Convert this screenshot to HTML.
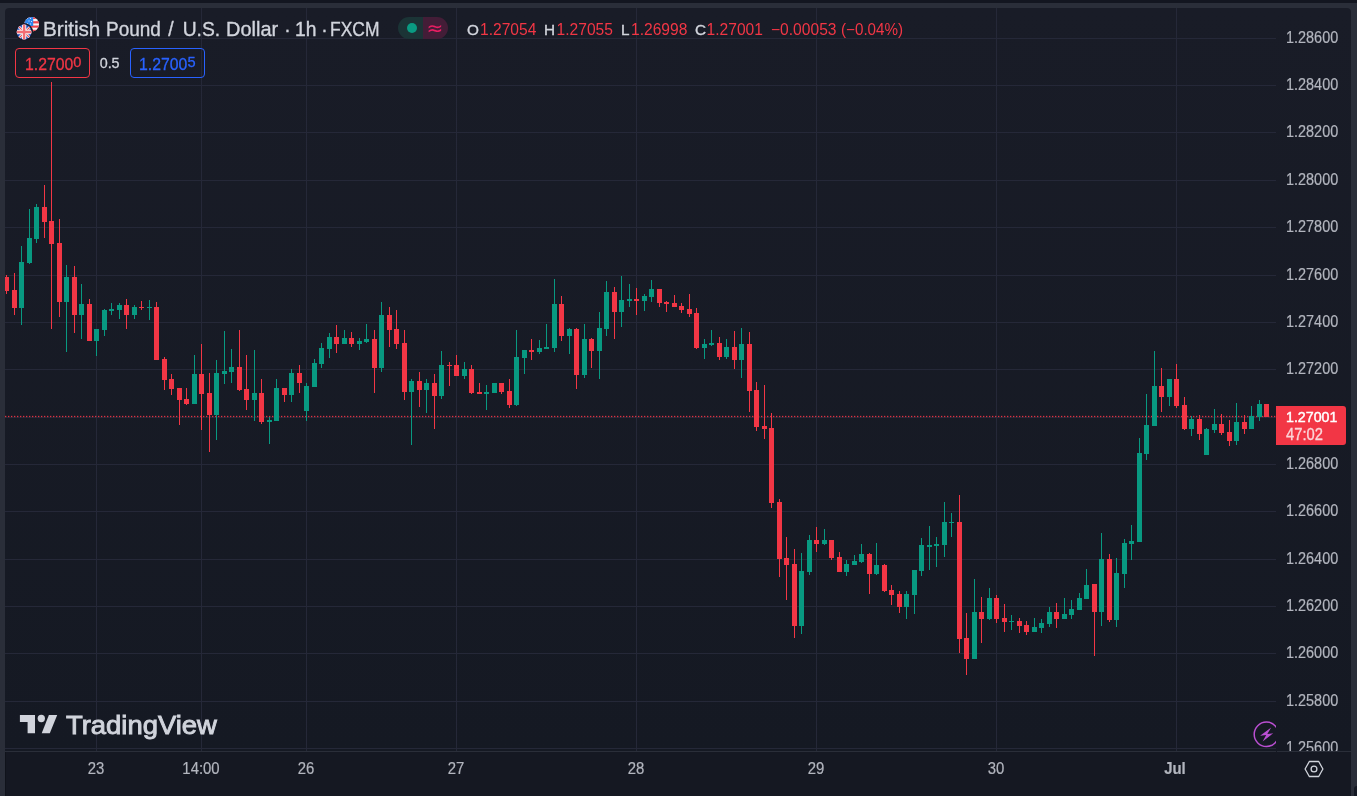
<!DOCTYPE html>
<html><head><meta charset="utf-8">
<style>
html,body{margin:0;padding:0}
body{width:1357px;height:796px;overflow:hidden;background:#131620;position:relative;font-family:"Liberation Sans",Arial,sans-serif}
#frame{position:absolute;left:0;top:3px;width:1357px;height:793px;background:#2a2e39}
#chart{position:absolute;left:5px;top:8px;width:1346px;height:800px;border-radius:4px;overflow:hidden;
 background:linear-gradient(to bottom,#191c27 0px,#151923 743px,#151822 744px,#151822 800px)}
svg{position:absolute;left:0;top:0}
.pl{position:absolute;left:1285.8px;width:60px;height:18px;line-height:18px;font-size:15.6px;color:#b2b5be;transform-origin:0 50%;transform:scaleX(0.926);white-space:nowrap;-webkit-text-stroke:0.2px #b2b5be}
.tl{position:absolute;top:760.3px;width:60px;text-align:center;height:18px;line-height:18px;font-size:15.6px;color:#b2b5be;transform:scaleX(0.955);-webkit-text-stroke:0.2px #b2b5be}
.abs{position:absolute;white-space:nowrap}
.tw{position:absolute;top:0;white-space:nowrap;transform-origin:0 50%}
</style></head><body>
<div id="frame"></div>
<div id="chart"></div>
<div style="position:absolute;left:1354.3px;top:785.6px;width:6px;height:12px;background:#141823;border-top-left-radius:3px"></div>
<div style="position:absolute;left:5px;top:752px;width:1px;height:44px;background:#10131b"></div>
<svg width="1357" height="796" viewBox="0 0 1357 796">
 <defs><clipPath id="pane"><rect x="5" y="8" width="1271" height="743"/></clipPath></defs>
 <g fill="#252838"><rect x="5" y="38" width="1271" height="1"/><rect x="5" y="85" width="1271" height="1"/><rect x="5" y="132" width="1271" height="1"/><rect x="5" y="180" width="1271" height="1"/><rect x="5" y="227" width="1271" height="1"/><rect x="5" y="275" width="1271" height="1"/><rect x="5" y="322" width="1271" height="1"/><rect x="5" y="369" width="1271" height="1"/><rect x="5" y="417" width="1271" height="1"/><rect x="5" y="464" width="1271" height="1"/><rect x="5" y="511" width="1271" height="1"/><rect x="5" y="559" width="1271" height="1"/><rect x="5" y="606" width="1271" height="1"/><rect x="5" y="653" width="1271" height="1"/><rect x="5" y="701" width="1271" height="1"/><rect x="5" y="748" width="1271" height="1"/><rect x="96" y="8" width="1" height="743"/><rect x="201" y="8" width="1" height="743"/><rect x="306" y="8" width="1" height="743"/><rect x="456" y="8" width="1" height="743"/><rect x="636" y="8" width="1" height="743"/><rect x="816" y="8" width="1" height="743"/><rect x="996" y="8" width="1" height="743"/><rect x="1176" y="8" width="1" height="743"/></g>
 <rect x="5" y="751" width="1271" height="1" fill="#2a2e39"/>
 <rect x="1277" y="751" width="74" height="1" fill="#2a2e39"/>
 <g fill="#F23645"><rect x="5.1" y="415.85" width="1.2" height="1.3"/><rect x="8.1" y="415.85" width="1.2" height="1.3"/><rect x="11.1" y="415.85" width="1.2" height="1.3"/><rect x="14.1" y="415.85" width="1.2" height="1.3"/><rect x="17.1" y="415.85" width="1.2" height="1.3"/><rect x="20.1" y="415.85" width="1.2" height="1.3"/><rect x="23.1" y="415.85" width="1.2" height="1.3"/><rect x="26.1" y="415.85" width="1.2" height="1.3"/><rect x="29.1" y="415.85" width="1.2" height="1.3"/><rect x="32.1" y="415.85" width="1.2" height="1.3"/><rect x="35.1" y="415.85" width="1.2" height="1.3"/><rect x="38.1" y="415.85" width="1.2" height="1.3"/><rect x="41.1" y="415.85" width="1.2" height="1.3"/><rect x="44.1" y="415.85" width="1.2" height="1.3"/><rect x="47.1" y="415.85" width="1.2" height="1.3"/><rect x="50.1" y="415.85" width="1.2" height="1.3"/><rect x="53.1" y="415.85" width="1.2" height="1.3"/><rect x="56.1" y="415.85" width="1.2" height="1.3"/><rect x="59.1" y="415.85" width="1.2" height="1.3"/><rect x="62.1" y="415.85" width="1.2" height="1.3"/><rect x="65.1" y="415.85" width="1.2" height="1.3"/><rect x="68.1" y="415.85" width="1.2" height="1.3"/><rect x="71.1" y="415.85" width="1.2" height="1.3"/><rect x="74.1" y="415.85" width="1.2" height="1.3"/><rect x="77.1" y="415.85" width="1.2" height="1.3"/><rect x="80.1" y="415.85" width="1.2" height="1.3"/><rect x="83.1" y="415.85" width="1.2" height="1.3"/><rect x="86.1" y="415.85" width="1.2" height="1.3"/><rect x="89.1" y="415.85" width="1.2" height="1.3"/><rect x="92.1" y="415.85" width="1.2" height="1.3"/><rect x="95.1" y="415.85" width="1.2" height="1.3"/><rect x="98.1" y="415.85" width="1.2" height="1.3"/><rect x="101.1" y="415.85" width="1.2" height="1.3"/><rect x="104.1" y="415.85" width="1.2" height="1.3"/><rect x="107.1" y="415.85" width="1.2" height="1.3"/><rect x="110.1" y="415.85" width="1.2" height="1.3"/><rect x="113.1" y="415.85" width="1.2" height="1.3"/><rect x="116.1" y="415.85" width="1.2" height="1.3"/><rect x="119.1" y="415.85" width="1.2" height="1.3"/><rect x="122.1" y="415.85" width="1.2" height="1.3"/><rect x="125.1" y="415.85" width="1.2" height="1.3"/><rect x="128.1" y="415.85" width="1.2" height="1.3"/><rect x="131.1" y="415.85" width="1.2" height="1.3"/><rect x="134.1" y="415.85" width="1.2" height="1.3"/><rect x="137.1" y="415.85" width="1.2" height="1.3"/><rect x="140.1" y="415.85" width="1.2" height="1.3"/><rect x="143.1" y="415.85" width="1.2" height="1.3"/><rect x="146.1" y="415.85" width="1.2" height="1.3"/><rect x="149.1" y="415.85" width="1.2" height="1.3"/><rect x="152.1" y="415.85" width="1.2" height="1.3"/><rect x="155.1" y="415.85" width="1.2" height="1.3"/><rect x="158.1" y="415.85" width="1.2" height="1.3"/><rect x="161.1" y="415.85" width="1.2" height="1.3"/><rect x="164.1" y="415.85" width="1.2" height="1.3"/><rect x="167.1" y="415.85" width="1.2" height="1.3"/><rect x="170.1" y="415.85" width="1.2" height="1.3"/><rect x="173.1" y="415.85" width="1.2" height="1.3"/><rect x="176.1" y="415.85" width="1.2" height="1.3"/><rect x="179.1" y="415.85" width="1.2" height="1.3"/><rect x="182.1" y="415.85" width="1.2" height="1.3"/><rect x="185.1" y="415.85" width="1.2" height="1.3"/><rect x="188.1" y="415.85" width="1.2" height="1.3"/><rect x="191.1" y="415.85" width="1.2" height="1.3"/><rect x="194.1" y="415.85" width="1.2" height="1.3"/><rect x="197.1" y="415.85" width="1.2" height="1.3"/><rect x="200.1" y="415.85" width="1.2" height="1.3"/><rect x="203.1" y="415.85" width="1.2" height="1.3"/><rect x="206.1" y="415.85" width="1.2" height="1.3"/><rect x="209.1" y="415.85" width="1.2" height="1.3"/><rect x="212.1" y="415.85" width="1.2" height="1.3"/><rect x="215.1" y="415.85" width="1.2" height="1.3"/><rect x="218.1" y="415.85" width="1.2" height="1.3"/><rect x="221.1" y="415.85" width="1.2" height="1.3"/><rect x="224.1" y="415.85" width="1.2" height="1.3"/><rect x="227.1" y="415.85" width="1.2" height="1.3"/><rect x="230.1" y="415.85" width="1.2" height="1.3"/><rect x="233.1" y="415.85" width="1.2" height="1.3"/><rect x="236.1" y="415.85" width="1.2" height="1.3"/><rect x="239.1" y="415.85" width="1.2" height="1.3"/><rect x="242.1" y="415.85" width="1.2" height="1.3"/><rect x="245.1" y="415.85" width="1.2" height="1.3"/><rect x="248.1" y="415.85" width="1.2" height="1.3"/><rect x="251.1" y="415.85" width="1.2" height="1.3"/><rect x="254.1" y="415.85" width="1.2" height="1.3"/><rect x="257.1" y="415.85" width="1.2" height="1.3"/><rect x="260.1" y="415.85" width="1.2" height="1.3"/><rect x="263.1" y="415.85" width="1.2" height="1.3"/><rect x="266.1" y="415.85" width="1.2" height="1.3"/><rect x="269.1" y="415.85" width="1.2" height="1.3"/><rect x="272.1" y="415.85" width="1.2" height="1.3"/><rect x="275.1" y="415.85" width="1.2" height="1.3"/><rect x="278.1" y="415.85" width="1.2" height="1.3"/><rect x="281.1" y="415.85" width="1.2" height="1.3"/><rect x="284.1" y="415.85" width="1.2" height="1.3"/><rect x="287.1" y="415.85" width="1.2" height="1.3"/><rect x="290.1" y="415.85" width="1.2" height="1.3"/><rect x="293.1" y="415.85" width="1.2" height="1.3"/><rect x="296.1" y="415.85" width="1.2" height="1.3"/><rect x="299.1" y="415.85" width="1.2" height="1.3"/><rect x="302.1" y="415.85" width="1.2" height="1.3"/><rect x="305.1" y="415.85" width="1.2" height="1.3"/><rect x="308.1" y="415.85" width="1.2" height="1.3"/><rect x="311.1" y="415.85" width="1.2" height="1.3"/><rect x="314.1" y="415.85" width="1.2" height="1.3"/><rect x="317.1" y="415.85" width="1.2" height="1.3"/><rect x="320.1" y="415.85" width="1.2" height="1.3"/><rect x="323.1" y="415.85" width="1.2" height="1.3"/><rect x="326.1" y="415.85" width="1.2" height="1.3"/><rect x="329.1" y="415.85" width="1.2" height="1.3"/><rect x="332.1" y="415.85" width="1.2" height="1.3"/><rect x="335.1" y="415.85" width="1.2" height="1.3"/><rect x="338.1" y="415.85" width="1.2" height="1.3"/><rect x="341.1" y="415.85" width="1.2" height="1.3"/><rect x="344.1" y="415.85" width="1.2" height="1.3"/><rect x="347.1" y="415.85" width="1.2" height="1.3"/><rect x="350.1" y="415.85" width="1.2" height="1.3"/><rect x="353.1" y="415.85" width="1.2" height="1.3"/><rect x="356.1" y="415.85" width="1.2" height="1.3"/><rect x="359.1" y="415.85" width="1.2" height="1.3"/><rect x="362.1" y="415.85" width="1.2" height="1.3"/><rect x="365.1" y="415.85" width="1.2" height="1.3"/><rect x="368.1" y="415.85" width="1.2" height="1.3"/><rect x="371.1" y="415.85" width="1.2" height="1.3"/><rect x="374.1" y="415.85" width="1.2" height="1.3"/><rect x="377.1" y="415.85" width="1.2" height="1.3"/><rect x="380.1" y="415.85" width="1.2" height="1.3"/><rect x="383.1" y="415.85" width="1.2" height="1.3"/><rect x="386.1" y="415.85" width="1.2" height="1.3"/><rect x="389.1" y="415.85" width="1.2" height="1.3"/><rect x="392.1" y="415.85" width="1.2" height="1.3"/><rect x="395.1" y="415.85" width="1.2" height="1.3"/><rect x="398.1" y="415.85" width="1.2" height="1.3"/><rect x="401.1" y="415.85" width="1.2" height="1.3"/><rect x="404.1" y="415.85" width="1.2" height="1.3"/><rect x="407.1" y="415.85" width="1.2" height="1.3"/><rect x="410.1" y="415.85" width="1.2" height="1.3"/><rect x="413.1" y="415.85" width="1.2" height="1.3"/><rect x="416.1" y="415.85" width="1.2" height="1.3"/><rect x="419.1" y="415.85" width="1.2" height="1.3"/><rect x="422.1" y="415.85" width="1.2" height="1.3"/><rect x="425.1" y="415.85" width="1.2" height="1.3"/><rect x="428.1" y="415.85" width="1.2" height="1.3"/><rect x="431.1" y="415.85" width="1.2" height="1.3"/><rect x="434.1" y="415.85" width="1.2" height="1.3"/><rect x="437.1" y="415.85" width="1.2" height="1.3"/><rect x="440.1" y="415.85" width="1.2" height="1.3"/><rect x="443.1" y="415.85" width="1.2" height="1.3"/><rect x="446.1" y="415.85" width="1.2" height="1.3"/><rect x="449.1" y="415.85" width="1.2" height="1.3"/><rect x="452.1" y="415.85" width="1.2" height="1.3"/><rect x="455.1" y="415.85" width="1.2" height="1.3"/><rect x="458.1" y="415.85" width="1.2" height="1.3"/><rect x="461.1" y="415.85" width="1.2" height="1.3"/><rect x="464.1" y="415.85" width="1.2" height="1.3"/><rect x="467.1" y="415.85" width="1.2" height="1.3"/><rect x="470.1" y="415.85" width="1.2" height="1.3"/><rect x="473.1" y="415.85" width="1.2" height="1.3"/><rect x="476.1" y="415.85" width="1.2" height="1.3"/><rect x="479.1" y="415.85" width="1.2" height="1.3"/><rect x="482.1" y="415.85" width="1.2" height="1.3"/><rect x="485.1" y="415.85" width="1.2" height="1.3"/><rect x="488.1" y="415.85" width="1.2" height="1.3"/><rect x="491.1" y="415.85" width="1.2" height="1.3"/><rect x="494.1" y="415.85" width="1.2" height="1.3"/><rect x="497.1" y="415.85" width="1.2" height="1.3"/><rect x="500.1" y="415.85" width="1.2" height="1.3"/><rect x="503.1" y="415.85" width="1.2" height="1.3"/><rect x="506.1" y="415.85" width="1.2" height="1.3"/><rect x="509.1" y="415.85" width="1.2" height="1.3"/><rect x="512.1" y="415.85" width="1.2" height="1.3"/><rect x="515.1" y="415.85" width="1.2" height="1.3"/><rect x="518.1" y="415.85" width="1.2" height="1.3"/><rect x="521.1" y="415.85" width="1.2" height="1.3"/><rect x="524.1" y="415.85" width="1.2" height="1.3"/><rect x="527.1" y="415.85" width="1.2" height="1.3"/><rect x="530.1" y="415.85" width="1.2" height="1.3"/><rect x="533.1" y="415.85" width="1.2" height="1.3"/><rect x="536.1" y="415.85" width="1.2" height="1.3"/><rect x="539.1" y="415.85" width="1.2" height="1.3"/><rect x="542.1" y="415.85" width="1.2" height="1.3"/><rect x="545.1" y="415.85" width="1.2" height="1.3"/><rect x="548.1" y="415.85" width="1.2" height="1.3"/><rect x="551.1" y="415.85" width="1.2" height="1.3"/><rect x="554.1" y="415.85" width="1.2" height="1.3"/><rect x="557.1" y="415.85" width="1.2" height="1.3"/><rect x="560.1" y="415.85" width="1.2" height="1.3"/><rect x="563.1" y="415.85" width="1.2" height="1.3"/><rect x="566.1" y="415.85" width="1.2" height="1.3"/><rect x="569.1" y="415.85" width="1.2" height="1.3"/><rect x="572.1" y="415.85" width="1.2" height="1.3"/><rect x="575.1" y="415.85" width="1.2" height="1.3"/><rect x="578.1" y="415.85" width="1.2" height="1.3"/><rect x="581.1" y="415.85" width="1.2" height="1.3"/><rect x="584.1" y="415.85" width="1.2" height="1.3"/><rect x="587.1" y="415.85" width="1.2" height="1.3"/><rect x="590.1" y="415.85" width="1.2" height="1.3"/><rect x="593.1" y="415.85" width="1.2" height="1.3"/><rect x="596.1" y="415.85" width="1.2" height="1.3"/><rect x="599.1" y="415.85" width="1.2" height="1.3"/><rect x="602.1" y="415.85" width="1.2" height="1.3"/><rect x="605.1" y="415.85" width="1.2" height="1.3"/><rect x="608.1" y="415.85" width="1.2" height="1.3"/><rect x="611.1" y="415.85" width="1.2" height="1.3"/><rect x="614.1" y="415.85" width="1.2" height="1.3"/><rect x="617.1" y="415.85" width="1.2" height="1.3"/><rect x="620.1" y="415.85" width="1.2" height="1.3"/><rect x="623.1" y="415.85" width="1.2" height="1.3"/><rect x="626.1" y="415.85" width="1.2" height="1.3"/><rect x="629.1" y="415.85" width="1.2" height="1.3"/><rect x="632.1" y="415.85" width="1.2" height="1.3"/><rect x="635.1" y="415.85" width="1.2" height="1.3"/><rect x="638.1" y="415.85" width="1.2" height="1.3"/><rect x="641.1" y="415.85" width="1.2" height="1.3"/><rect x="644.1" y="415.85" width="1.2" height="1.3"/><rect x="647.1" y="415.85" width="1.2" height="1.3"/><rect x="650.1" y="415.85" width="1.2" height="1.3"/><rect x="653.1" y="415.85" width="1.2" height="1.3"/><rect x="656.1" y="415.85" width="1.2" height="1.3"/><rect x="659.1" y="415.85" width="1.2" height="1.3"/><rect x="662.1" y="415.85" width="1.2" height="1.3"/><rect x="665.1" y="415.85" width="1.2" height="1.3"/><rect x="668.1" y="415.85" width="1.2" height="1.3"/><rect x="671.1" y="415.85" width="1.2" height="1.3"/><rect x="674.1" y="415.85" width="1.2" height="1.3"/><rect x="677.1" y="415.85" width="1.2" height="1.3"/><rect x="680.1" y="415.85" width="1.2" height="1.3"/><rect x="683.1" y="415.85" width="1.2" height="1.3"/><rect x="686.1" y="415.85" width="1.2" height="1.3"/><rect x="689.1" y="415.85" width="1.2" height="1.3"/><rect x="692.1" y="415.85" width="1.2" height="1.3"/><rect x="695.1" y="415.85" width="1.2" height="1.3"/><rect x="698.1" y="415.85" width="1.2" height="1.3"/><rect x="701.1" y="415.85" width="1.2" height="1.3"/><rect x="704.1" y="415.85" width="1.2" height="1.3"/><rect x="707.1" y="415.85" width="1.2" height="1.3"/><rect x="710.1" y="415.85" width="1.2" height="1.3"/><rect x="713.1" y="415.85" width="1.2" height="1.3"/><rect x="716.1" y="415.85" width="1.2" height="1.3"/><rect x="719.1" y="415.85" width="1.2" height="1.3"/><rect x="722.1" y="415.85" width="1.2" height="1.3"/><rect x="725.1" y="415.85" width="1.2" height="1.3"/><rect x="728.1" y="415.85" width="1.2" height="1.3"/><rect x="731.1" y="415.85" width="1.2" height="1.3"/><rect x="734.1" y="415.85" width="1.2" height="1.3"/><rect x="737.1" y="415.85" width="1.2" height="1.3"/><rect x="740.1" y="415.85" width="1.2" height="1.3"/><rect x="743.1" y="415.85" width="1.2" height="1.3"/><rect x="746.1" y="415.85" width="1.2" height="1.3"/><rect x="749.1" y="415.85" width="1.2" height="1.3"/><rect x="752.1" y="415.85" width="1.2" height="1.3"/><rect x="755.1" y="415.85" width="1.2" height="1.3"/><rect x="758.1" y="415.85" width="1.2" height="1.3"/><rect x="761.1" y="415.85" width="1.2" height="1.3"/><rect x="764.1" y="415.85" width="1.2" height="1.3"/><rect x="767.1" y="415.85" width="1.2" height="1.3"/><rect x="770.1" y="415.85" width="1.2" height="1.3"/><rect x="773.1" y="415.85" width="1.2" height="1.3"/><rect x="776.1" y="415.85" width="1.2" height="1.3"/><rect x="779.1" y="415.85" width="1.2" height="1.3"/><rect x="782.1" y="415.85" width="1.2" height="1.3"/><rect x="785.1" y="415.85" width="1.2" height="1.3"/><rect x="788.1" y="415.85" width="1.2" height="1.3"/><rect x="791.1" y="415.85" width="1.2" height="1.3"/><rect x="794.1" y="415.85" width="1.2" height="1.3"/><rect x="797.1" y="415.85" width="1.2" height="1.3"/><rect x="800.1" y="415.85" width="1.2" height="1.3"/><rect x="803.1" y="415.85" width="1.2" height="1.3"/><rect x="806.1" y="415.85" width="1.2" height="1.3"/><rect x="809.1" y="415.85" width="1.2" height="1.3"/><rect x="812.1" y="415.85" width="1.2" height="1.3"/><rect x="815.1" y="415.85" width="1.2" height="1.3"/><rect x="818.1" y="415.85" width="1.2" height="1.3"/><rect x="821.1" y="415.85" width="1.2" height="1.3"/><rect x="824.1" y="415.85" width="1.2" height="1.3"/><rect x="827.1" y="415.85" width="1.2" height="1.3"/><rect x="830.1" y="415.85" width="1.2" height="1.3"/><rect x="833.1" y="415.85" width="1.2" height="1.3"/><rect x="836.1" y="415.85" width="1.2" height="1.3"/><rect x="839.1" y="415.85" width="1.2" height="1.3"/><rect x="842.1" y="415.85" width="1.2" height="1.3"/><rect x="845.1" y="415.85" width="1.2" height="1.3"/><rect x="848.1" y="415.85" width="1.2" height="1.3"/><rect x="851.1" y="415.85" width="1.2" height="1.3"/><rect x="854.1" y="415.85" width="1.2" height="1.3"/><rect x="857.1" y="415.85" width="1.2" height="1.3"/><rect x="860.1" y="415.85" width="1.2" height="1.3"/><rect x="863.1" y="415.85" width="1.2" height="1.3"/><rect x="866.1" y="415.85" width="1.2" height="1.3"/><rect x="869.1" y="415.85" width="1.2" height="1.3"/><rect x="872.1" y="415.85" width="1.2" height="1.3"/><rect x="875.1" y="415.85" width="1.2" height="1.3"/><rect x="878.1" y="415.85" width="1.2" height="1.3"/><rect x="881.1" y="415.85" width="1.2" height="1.3"/><rect x="884.1" y="415.85" width="1.2" height="1.3"/><rect x="887.1" y="415.85" width="1.2" height="1.3"/><rect x="890.1" y="415.85" width="1.2" height="1.3"/><rect x="893.1" y="415.85" width="1.2" height="1.3"/><rect x="896.1" y="415.85" width="1.2" height="1.3"/><rect x="899.1" y="415.85" width="1.2" height="1.3"/><rect x="902.1" y="415.85" width="1.2" height="1.3"/><rect x="905.1" y="415.85" width="1.2" height="1.3"/><rect x="908.1" y="415.85" width="1.2" height="1.3"/><rect x="911.1" y="415.85" width="1.2" height="1.3"/><rect x="914.1" y="415.85" width="1.2" height="1.3"/><rect x="917.1" y="415.85" width="1.2" height="1.3"/><rect x="920.1" y="415.85" width="1.2" height="1.3"/><rect x="923.1" y="415.85" width="1.2" height="1.3"/><rect x="926.1" y="415.85" width="1.2" height="1.3"/><rect x="929.1" y="415.85" width="1.2" height="1.3"/><rect x="932.1" y="415.85" width="1.2" height="1.3"/><rect x="935.1" y="415.85" width="1.2" height="1.3"/><rect x="938.1" y="415.85" width="1.2" height="1.3"/><rect x="941.1" y="415.85" width="1.2" height="1.3"/><rect x="944.1" y="415.85" width="1.2" height="1.3"/><rect x="947.1" y="415.85" width="1.2" height="1.3"/><rect x="950.1" y="415.85" width="1.2" height="1.3"/><rect x="953.1" y="415.85" width="1.2" height="1.3"/><rect x="956.1" y="415.85" width="1.2" height="1.3"/><rect x="959.1" y="415.85" width="1.2" height="1.3"/><rect x="962.1" y="415.85" width="1.2" height="1.3"/><rect x="965.1" y="415.85" width="1.2" height="1.3"/><rect x="968.1" y="415.85" width="1.2" height="1.3"/><rect x="971.1" y="415.85" width="1.2" height="1.3"/><rect x="974.1" y="415.85" width="1.2" height="1.3"/><rect x="977.1" y="415.85" width="1.2" height="1.3"/><rect x="980.1" y="415.85" width="1.2" height="1.3"/><rect x="983.1" y="415.85" width="1.2" height="1.3"/><rect x="986.1" y="415.85" width="1.2" height="1.3"/><rect x="989.1" y="415.85" width="1.2" height="1.3"/><rect x="992.1" y="415.85" width="1.2" height="1.3"/><rect x="995.1" y="415.85" width="1.2" height="1.3"/><rect x="998.1" y="415.85" width="1.2" height="1.3"/><rect x="1001.1" y="415.85" width="1.2" height="1.3"/><rect x="1004.1" y="415.85" width="1.2" height="1.3"/><rect x="1007.1" y="415.85" width="1.2" height="1.3"/><rect x="1010.1" y="415.85" width="1.2" height="1.3"/><rect x="1013.1" y="415.85" width="1.2" height="1.3"/><rect x="1016.1" y="415.85" width="1.2" height="1.3"/><rect x="1019.1" y="415.85" width="1.2" height="1.3"/><rect x="1022.1" y="415.85" width="1.2" height="1.3"/><rect x="1025.1" y="415.85" width="1.2" height="1.3"/><rect x="1028.1" y="415.85" width="1.2" height="1.3"/><rect x="1031.1" y="415.85" width="1.2" height="1.3"/><rect x="1034.1" y="415.85" width="1.2" height="1.3"/><rect x="1037.1" y="415.85" width="1.2" height="1.3"/><rect x="1040.1" y="415.85" width="1.2" height="1.3"/><rect x="1043.1" y="415.85" width="1.2" height="1.3"/><rect x="1046.1" y="415.85" width="1.2" height="1.3"/><rect x="1049.1" y="415.85" width="1.2" height="1.3"/><rect x="1052.1" y="415.85" width="1.2" height="1.3"/><rect x="1055.1" y="415.85" width="1.2" height="1.3"/><rect x="1058.1" y="415.85" width="1.2" height="1.3"/><rect x="1061.1" y="415.85" width="1.2" height="1.3"/><rect x="1064.1" y="415.85" width="1.2" height="1.3"/><rect x="1067.1" y="415.85" width="1.2" height="1.3"/><rect x="1070.1" y="415.85" width="1.2" height="1.3"/><rect x="1073.1" y="415.85" width="1.2" height="1.3"/><rect x="1076.1" y="415.85" width="1.2" height="1.3"/><rect x="1079.1" y="415.85" width="1.2" height="1.3"/><rect x="1082.1" y="415.85" width="1.2" height="1.3"/><rect x="1085.1" y="415.85" width="1.2" height="1.3"/><rect x="1088.1" y="415.85" width="1.2" height="1.3"/><rect x="1091.1" y="415.85" width="1.2" height="1.3"/><rect x="1094.1" y="415.85" width="1.2" height="1.3"/><rect x="1097.1" y="415.85" width="1.2" height="1.3"/><rect x="1100.1" y="415.85" width="1.2" height="1.3"/><rect x="1103.1" y="415.85" width="1.2" height="1.3"/><rect x="1106.1" y="415.85" width="1.2" height="1.3"/><rect x="1109.1" y="415.85" width="1.2" height="1.3"/><rect x="1112.1" y="415.85" width="1.2" height="1.3"/><rect x="1115.1" y="415.85" width="1.2" height="1.3"/><rect x="1118.1" y="415.85" width="1.2" height="1.3"/><rect x="1121.1" y="415.85" width="1.2" height="1.3"/><rect x="1124.1" y="415.85" width="1.2" height="1.3"/><rect x="1127.1" y="415.85" width="1.2" height="1.3"/><rect x="1130.1" y="415.85" width="1.2" height="1.3"/><rect x="1133.1" y="415.85" width="1.2" height="1.3"/><rect x="1136.1" y="415.85" width="1.2" height="1.3"/><rect x="1139.1" y="415.85" width="1.2" height="1.3"/><rect x="1142.1" y="415.85" width="1.2" height="1.3"/><rect x="1145.1" y="415.85" width="1.2" height="1.3"/><rect x="1148.1" y="415.85" width="1.2" height="1.3"/><rect x="1151.1" y="415.85" width="1.2" height="1.3"/><rect x="1154.1" y="415.85" width="1.2" height="1.3"/><rect x="1157.1" y="415.85" width="1.2" height="1.3"/><rect x="1160.1" y="415.85" width="1.2" height="1.3"/><rect x="1163.1" y="415.85" width="1.2" height="1.3"/><rect x="1166.1" y="415.85" width="1.2" height="1.3"/><rect x="1169.1" y="415.85" width="1.2" height="1.3"/><rect x="1172.1" y="415.85" width="1.2" height="1.3"/><rect x="1175.1" y="415.85" width="1.2" height="1.3"/><rect x="1178.1" y="415.85" width="1.2" height="1.3"/><rect x="1181.1" y="415.85" width="1.2" height="1.3"/><rect x="1184.1" y="415.85" width="1.2" height="1.3"/><rect x="1187.1" y="415.85" width="1.2" height="1.3"/><rect x="1190.1" y="415.85" width="1.2" height="1.3"/><rect x="1193.1" y="415.85" width="1.2" height="1.3"/><rect x="1196.1" y="415.85" width="1.2" height="1.3"/><rect x="1199.1" y="415.85" width="1.2" height="1.3"/><rect x="1202.1" y="415.85" width="1.2" height="1.3"/><rect x="1205.1" y="415.85" width="1.2" height="1.3"/><rect x="1208.1" y="415.85" width="1.2" height="1.3"/><rect x="1211.1" y="415.85" width="1.2" height="1.3"/><rect x="1214.1" y="415.85" width="1.2" height="1.3"/><rect x="1217.1" y="415.85" width="1.2" height="1.3"/><rect x="1220.1" y="415.85" width="1.2" height="1.3"/><rect x="1223.1" y="415.85" width="1.2" height="1.3"/><rect x="1226.1" y="415.85" width="1.2" height="1.3"/><rect x="1229.1" y="415.85" width="1.2" height="1.3"/><rect x="1232.1" y="415.85" width="1.2" height="1.3"/><rect x="1235.1" y="415.85" width="1.2" height="1.3"/><rect x="1238.1" y="415.85" width="1.2" height="1.3"/><rect x="1241.1" y="415.85" width="1.2" height="1.3"/><rect x="1244.1" y="415.85" width="1.2" height="1.3"/><rect x="1247.1" y="415.85" width="1.2" height="1.3"/><rect x="1250.1" y="415.85" width="1.2" height="1.3"/><rect x="1253.1" y="415.85" width="1.2" height="1.3"/><rect x="1256.1" y="415.85" width="1.2" height="1.3"/><rect x="1259.1" y="415.85" width="1.2" height="1.3"/><rect x="1262.1" y="415.85" width="1.2" height="1.3"/><rect x="1265.1" y="415.85" width="1.2" height="1.3"/><rect x="1268.1" y="415.85" width="1.2" height="1.3"/><rect x="1271.1" y="415.85" width="1.2" height="1.3"/><rect x="1274.1" y="415.85" width="1.2" height="1.3"/></g>
 <g clip-path="url(#pane)"><g fill="#089981"><rect x="21" y="246" width="1" height="16"/><rect x="19" y="262" width="5" height="46"/><rect x="21" y="308" width="1" height="17"/><rect x="29" y="209" width="1" height="29"/><rect x="27" y="238" width="5" height="25"/><rect x="29" y="263" width="1" height="1"/><rect x="36" y="204" width="1" height="3"/><rect x="34" y="207" width="5" height="32"/><rect x="36" y="239" width="1" height="4"/><rect x="66" y="265" width="1" height="12"/><rect x="64" y="277" width="5" height="25"/><rect x="66" y="302" width="1" height="50"/><rect x="81" y="284" width="1" height="20"/><rect x="79" y="304" width="5" height="11"/><rect x="81" y="315" width="1" height="24"/><rect x="94" y="329" width="5" height="12"/><rect x="96" y="341" width="1" height="15"/><rect x="104" y="309" width="1" height="1"/><rect x="102" y="310" width="5" height="20"/><rect x="104" y="330" width="1" height="6"/><rect x="111" y="303" width="1" height="6"/><rect x="109" y="309" width="5" height="2"/><rect x="111" y="311" width="1" height="4"/><rect x="119" y="303" width="1" height="2"/><rect x="117" y="305" width="5" height="5"/><rect x="119" y="310" width="1" height="9"/><rect x="134" y="305" width="1" height="2"/><rect x="132" y="307" width="5" height="8"/><rect x="134" y="315" width="1" height="4"/><rect x="149" y="300" width="1" height="7"/><rect x="147" y="307" width="5" height="1"/><rect x="149" y="308" width="1" height="12"/><rect x="194" y="355" width="1" height="19"/><rect x="192" y="374" width="5" height="30"/><rect x="216" y="360" width="1" height="13"/><rect x="214" y="373" width="5" height="42"/><rect x="216" y="415" width="1" height="25"/><rect x="224" y="331" width="1" height="40"/><rect x="222" y="371" width="5" height="3"/><rect x="224" y="374" width="1" height="10"/><rect x="231" y="349" width="1" height="18"/><rect x="229" y="367" width="5" height="5"/><rect x="231" y="372" width="1" height="11"/><rect x="254" y="350" width="1" height="43"/><rect x="252" y="393" width="5" height="7"/><rect x="254" y="400" width="1" height="21"/><rect x="269" y="417" width="1" height="3"/><rect x="267" y="420" width="5" height="2"/><rect x="269" y="422" width="1" height="22"/><rect x="276" y="379" width="1" height="9"/><rect x="274" y="388" width="5" height="33"/><rect x="291" y="369" width="1" height="4"/><rect x="289" y="373" width="5" height="22"/><rect x="291" y="395" width="1" height="7"/><rect x="306" y="383" width="1" height="3"/><rect x="304" y="386" width="5" height="25"/><rect x="306" y="411" width="1" height="10"/><rect x="314" y="359" width="1" height="4"/><rect x="312" y="363" width="5" height="24"/><rect x="321" y="343" width="1" height="5"/><rect x="319" y="348" width="5" height="16"/><rect x="321" y="364" width="1" height="4"/><rect x="329" y="333" width="1" height="4"/><rect x="327" y="337" width="5" height="12"/><rect x="329" y="349" width="1" height="9"/><rect x="344" y="330" width="1" height="8"/><rect x="342" y="338" width="5" height="6"/><rect x="359" y="338" width="1" height="3"/><rect x="357" y="341" width="5" height="3"/><rect x="359" y="344" width="1" height="6"/><rect x="366" y="324" width="1" height="15"/><rect x="364" y="339" width="5" height="3"/><rect x="366" y="342" width="1" height="1"/><rect x="381" y="302" width="1" height="13"/><rect x="379" y="315" width="5" height="53"/><rect x="381" y="368" width="1" height="4"/><rect x="411" y="379" width="1" height="2"/><rect x="409" y="381" width="5" height="11"/><rect x="411" y="392" width="1" height="53"/><rect x="426" y="379" width="1" height="4"/><rect x="424" y="383" width="5" height="7"/><rect x="426" y="390" width="1" height="23"/><rect x="441" y="351" width="1" height="14"/><rect x="439" y="365" width="5" height="31"/><rect x="441" y="396" width="1" height="3"/><rect x="464" y="362" width="1" height="7"/><rect x="462" y="369" width="5" height="7"/><rect x="464" y="376" width="1" height="3"/><rect x="486" y="385" width="1" height="7"/><rect x="484" y="392" width="5" height="2"/><rect x="486" y="394" width="1" height="16"/><rect x="492" y="383" width="5" height="10"/><rect x="516" y="330" width="1" height="27"/><rect x="514" y="357" width="5" height="48"/><rect x="516" y="405" width="1" height="1"/><rect x="522" y="350" width="5" height="8"/><rect x="524" y="358" width="1" height="16"/><rect x="539" y="340" width="1" height="8"/><rect x="537" y="348" width="5" height="4"/><rect x="539" y="352" width="1" height="2"/><rect x="546" y="324" width="1" height="23"/><rect x="544" y="347" width="5" height="2"/><rect x="554" y="279" width="1" height="25"/><rect x="552" y="304" width="5" height="44"/><rect x="554" y="348" width="1" height="4"/><rect x="569" y="328" width="1" height="1"/><rect x="567" y="329" width="5" height="7"/><rect x="569" y="336" width="1" height="18"/><rect x="584" y="324" width="1" height="15"/><rect x="582" y="339" width="5" height="36"/><rect x="584" y="375" width="1" height="3"/><rect x="599" y="312" width="1" height="16"/><rect x="597" y="328" width="5" height="23"/><rect x="599" y="351" width="1" height="28"/><rect x="606" y="281" width="1" height="11"/><rect x="604" y="292" width="5" height="37"/><rect x="606" y="329" width="1" height="7"/><rect x="621" y="276" width="1" height="24"/><rect x="619" y="300" width="5" height="12"/><rect x="621" y="312" width="1" height="15"/><rect x="629" y="284" width="1" height="15"/><rect x="627" y="299" width="5" height="2"/><rect x="629" y="301" width="1" height="6"/><rect x="644" y="294" width="1" height="2"/><rect x="642" y="296" width="5" height="5"/><rect x="644" y="301" width="1" height="10"/><rect x="651" y="280" width="1" height="9"/><rect x="649" y="289" width="5" height="8"/><rect x="651" y="297" width="1" height="5"/><rect x="704" y="339" width="1" height="5"/><rect x="702" y="344" width="5" height="4"/><rect x="704" y="348" width="1" height="11"/><rect x="711" y="330" width="1" height="13"/><rect x="709" y="343" width="5" height="2"/><rect x="711" y="345" width="1" height="1"/><rect x="726" y="339" width="1" height="8"/><rect x="724" y="347" width="5" height="10"/><rect x="726" y="357" width="1" height="2"/><rect x="741" y="328" width="1" height="16"/><rect x="739" y="344" width="5" height="16"/><rect x="741" y="360" width="1" height="18"/><rect x="801" y="553" width="1" height="18"/><rect x="799" y="571" width="5" height="55"/><rect x="801" y="626" width="1" height="8"/><rect x="809" y="535" width="1" height="5"/><rect x="807" y="540" width="5" height="32"/><rect x="809" y="572" width="1" height="3"/><rect x="824" y="529" width="1" height="11"/><rect x="822" y="540" width="5" height="4"/><rect x="824" y="544" width="1" height="1"/><rect x="846" y="560" width="1" height="4"/><rect x="844" y="564" width="5" height="8"/><rect x="846" y="572" width="1" height="4"/><rect x="854" y="555" width="1" height="6"/><rect x="852" y="561" width="5" height="4"/><rect x="861" y="544" width="1" height="10"/><rect x="859" y="554" width="5" height="8"/><rect x="861" y="562" width="1" height="1"/><rect x="876" y="543" width="1" height="22"/><rect x="874" y="565" width="5" height="9"/><rect x="876" y="574" width="1" height="1"/><rect x="906" y="591" width="1" height="3"/><rect x="904" y="594" width="5" height="13"/><rect x="906" y="607" width="1" height="12"/><rect x="912" y="570" width="5" height="25"/><rect x="914" y="595" width="1" height="19"/><rect x="921" y="538" width="1" height="7"/><rect x="919" y="545" width="5" height="26"/><rect x="921" y="571" width="1" height="5"/><rect x="929" y="526" width="1" height="19"/><rect x="927" y="545" width="5" height="2"/><rect x="929" y="547" width="1" height="23"/><rect x="936" y="537" width="1" height="7"/><rect x="934" y="544" width="5" height="2"/><rect x="936" y="546" width="1" height="21"/><rect x="944" y="502" width="1" height="20"/><rect x="942" y="522" width="5" height="23"/><rect x="944" y="545" width="1" height="12"/><rect x="951" y="513" width="1" height="9"/><rect x="949" y="522" width="5" height="1"/><rect x="951" y="523" width="1" height="14"/><rect x="974" y="579" width="1" height="33"/><rect x="972" y="612" width="5" height="47"/><rect x="989" y="588" width="1" height="10"/><rect x="987" y="598" width="5" height="21"/><rect x="989" y="619" width="1" height="1"/><rect x="1011" y="615" width="1" height="6"/><rect x="1009" y="621" width="5" height="1"/><rect x="1011" y="622" width="1" height="8"/><rect x="1034" y="618" width="1" height="9"/><rect x="1032" y="627" width="5" height="5"/><rect x="1041" y="619" width="1" height="4"/><rect x="1039" y="623" width="5" height="5"/><rect x="1041" y="628" width="1" height="5"/><rect x="1049" y="607" width="1" height="5"/><rect x="1047" y="612" width="5" height="12"/><rect x="1049" y="624" width="1" height="3"/><rect x="1064" y="598" width="1" height="16"/><rect x="1062" y="614" width="5" height="5"/><rect x="1071" y="600" width="1" height="9"/><rect x="1069" y="609" width="5" height="6"/><rect x="1071" y="615" width="1" height="4"/><rect x="1079" y="593" width="1" height="5"/><rect x="1077" y="598" width="5" height="12"/><rect x="1086" y="569" width="1" height="16"/><rect x="1084" y="585" width="5" height="14"/><rect x="1101" y="533" width="1" height="26"/><rect x="1099" y="559" width="5" height="53"/><rect x="1101" y="612" width="1" height="14"/><rect x="1116" y="558" width="1" height="15"/><rect x="1114" y="573" width="5" height="47"/><rect x="1116" y="620" width="1" height="7"/><rect x="1124" y="539" width="1" height="4"/><rect x="1122" y="543" width="5" height="31"/><rect x="1124" y="574" width="1" height="14"/><rect x="1131" y="525" width="1" height="16"/><rect x="1129" y="541" width="5" height="3"/><rect x="1131" y="544" width="1" height="16"/><rect x="1139" y="438" width="1" height="15"/><rect x="1137" y="453" width="5" height="89"/><rect x="1146" y="394" width="1" height="31"/><rect x="1144" y="425" width="5" height="29"/><rect x="1146" y="454" width="1" height="6"/><rect x="1154" y="351" width="1" height="35"/><rect x="1152" y="386" width="5" height="40"/><rect x="1167" y="379" width="5" height="18"/><rect x="1169" y="397" width="1" height="9"/><rect x="1191" y="416" width="1" height="3"/><rect x="1189" y="419" width="5" height="10"/><rect x="1191" y="429" width="1" height="7"/><rect x="1206" y="428" width="1" height="1"/><rect x="1204" y="429" width="5" height="26"/><rect x="1214" y="409" width="1" height="15"/><rect x="1212" y="424" width="5" height="6"/><rect x="1214" y="430" width="1" height="3"/><rect x="1236" y="403" width="1" height="19"/><rect x="1234" y="422" width="5" height="19"/><rect x="1236" y="441" width="1" height="4"/><rect x="1251" y="406" width="1" height="10"/><rect x="1249" y="416" width="5" height="13"/><rect x="1259" y="400" width="1" height="4"/><rect x="1257" y="404" width="5" height="13"/><rect x="1259" y="417" width="1" height="4"/></g>
 <g fill="#F23645"><rect x="6" y="275" width="1" height="2"/><rect x="4" y="277" width="5" height="14"/><rect x="6" y="291" width="1" height="3"/><rect x="14" y="273" width="1" height="17"/><rect x="12" y="290" width="5" height="18"/><rect x="14" y="308" width="1" height="7"/><rect x="44" y="185" width="1" height="22"/><rect x="42" y="207" width="5" height="15"/><rect x="44" y="222" width="1" height="16"/><rect x="51" y="82" width="1" height="139"/><rect x="49" y="221" width="5" height="23"/><rect x="51" y="244" width="1" height="85"/><rect x="59" y="219" width="1" height="24"/><rect x="57" y="243" width="5" height="59"/><rect x="59" y="302" width="1" height="15"/><rect x="74" y="266" width="1" height="11"/><rect x="72" y="277" width="5" height="38"/><rect x="74" y="315" width="1" height="18"/><rect x="89" y="299" width="1" height="5"/><rect x="87" y="304" width="5" height="37"/><rect x="126" y="299" width="1" height="6"/><rect x="124" y="305" width="5" height="10"/><rect x="126" y="315" width="1" height="14"/><rect x="141" y="301" width="1" height="6"/><rect x="139" y="307" width="5" height="1"/><rect x="141" y="308" width="1" height="2"/><rect x="156" y="302" width="1" height="5"/><rect x="154" y="307" width="5" height="53"/><rect x="164" y="357" width="1" height="2"/><rect x="162" y="359" width="5" height="21"/><rect x="164" y="380" width="1" height="10"/><rect x="171" y="374" width="1" height="5"/><rect x="169" y="379" width="5" height="10"/><rect x="171" y="389" width="1" height="6"/><rect x="177" y="388" width="5" height="12"/><rect x="179" y="400" width="1" height="25"/><rect x="186" y="388" width="1" height="11"/><rect x="184" y="399" width="5" height="5"/><rect x="186" y="404" width="1" height="1"/><rect x="201" y="344" width="1" height="30"/><rect x="199" y="374" width="5" height="20"/><rect x="201" y="394" width="1" height="36"/><rect x="209" y="373" width="1" height="20"/><rect x="207" y="393" width="5" height="22"/><rect x="209" y="415" width="1" height="37"/><rect x="239" y="330" width="1" height="37"/><rect x="237" y="367" width="5" height="23"/><rect x="239" y="390" width="1" height="1"/><rect x="246" y="355" width="1" height="34"/><rect x="244" y="389" width="5" height="11"/><rect x="246" y="400" width="1" height="10"/><rect x="261" y="379" width="1" height="14"/><rect x="259" y="393" width="5" height="29"/><rect x="261" y="422" width="1" height="2"/><rect x="282" y="388" width="5" height="7"/><rect x="284" y="395" width="1" height="7"/><rect x="299" y="365" width="1" height="8"/><rect x="297" y="373" width="5" height="10"/><rect x="299" y="383" width="1" height="10"/><rect x="336" y="325" width="1" height="12"/><rect x="334" y="337" width="5" height="7"/><rect x="336" y="344" width="1" height="9"/><rect x="351" y="332" width="1" height="6"/><rect x="349" y="338" width="5" height="6"/><rect x="351" y="344" width="1" height="3"/><rect x="374" y="330" width="1" height="9"/><rect x="372" y="339" width="5" height="29"/><rect x="374" y="368" width="1" height="25"/><rect x="389" y="307" width="1" height="8"/><rect x="387" y="315" width="5" height="15"/><rect x="389" y="330" width="1" height="17"/><rect x="396" y="310" width="1" height="19"/><rect x="394" y="329" width="5" height="15"/><rect x="396" y="344" width="1" height="5"/><rect x="404" y="330" width="1" height="13"/><rect x="402" y="343" width="5" height="49"/><rect x="404" y="392" width="1" height="8"/><rect x="419" y="372" width="1" height="9"/><rect x="417" y="381" width="5" height="9"/><rect x="419" y="390" width="1" height="17"/><rect x="434" y="374" width="1" height="9"/><rect x="432" y="383" width="5" height="13"/><rect x="434" y="396" width="1" height="33"/><rect x="449" y="362" width="1" height="3"/><rect x="447" y="365" width="5" height="1"/><rect x="449" y="366" width="1" height="20"/><rect x="456" y="355" width="1" height="10"/><rect x="454" y="365" width="5" height="11"/><rect x="471" y="365" width="1" height="4"/><rect x="469" y="369" width="5" height="24"/><rect x="471" y="393" width="1" height="1"/><rect x="479" y="383" width="1" height="9"/><rect x="477" y="392" width="5" height="2"/><rect x="499" y="383" width="5" height="9"/><rect x="501" y="392" width="1" height="2"/><rect x="509" y="379" width="1" height="12"/><rect x="507" y="391" width="5" height="14"/><rect x="509" y="405" width="1" height="3"/><rect x="531" y="339" width="1" height="11"/><rect x="529" y="350" width="5" height="2"/><rect x="531" y="352" width="1" height="8"/><rect x="561" y="296" width="1" height="8"/><rect x="559" y="304" width="5" height="32"/><rect x="561" y="336" width="1" height="5"/><rect x="576" y="328" width="1" height="1"/><rect x="574" y="329" width="5" height="46"/><rect x="576" y="375" width="1" height="14"/><rect x="591" y="338" width="1" height="1"/><rect x="589" y="339" width="5" height="12"/><rect x="591" y="351" width="1" height="17"/><rect x="614" y="287" width="1" height="5"/><rect x="612" y="292" width="5" height="20"/><rect x="614" y="312" width="1" height="27"/><rect x="636" y="288" width="1" height="11"/><rect x="634" y="299" width="5" height="2"/><rect x="636" y="301" width="1" height="14"/><rect x="657" y="289" width="5" height="14"/><rect x="659" y="303" width="1" height="4"/><rect x="666" y="301" width="1" height="1"/><rect x="664" y="302" width="5" height="2"/><rect x="666" y="304" width="1" height="8"/><rect x="674" y="295" width="1" height="8"/><rect x="672" y="303" width="5" height="4"/><rect x="681" y="303" width="1" height="3"/><rect x="679" y="306" width="5" height="4"/><rect x="681" y="310" width="1" height="3"/><rect x="689" y="294" width="1" height="15"/><rect x="687" y="309" width="5" height="5"/><rect x="689" y="314" width="1" height="3"/><rect x="696" y="308" width="1" height="5"/><rect x="694" y="313" width="5" height="35"/><rect x="696" y="348" width="1" height="1"/><rect x="719" y="337" width="1" height="6"/><rect x="717" y="343" width="5" height="14"/><rect x="719" y="357" width="1" height="3"/><rect x="734" y="331" width="1" height="16"/><rect x="732" y="347" width="5" height="13"/><rect x="734" y="360" width="1" height="9"/><rect x="749" y="332" width="1" height="12"/><rect x="747" y="344" width="5" height="47"/><rect x="749" y="391" width="1" height="21"/><rect x="756" y="382" width="1" height="8"/><rect x="754" y="390" width="5" height="37"/><rect x="756" y="427" width="1" height="4"/><rect x="764" y="385" width="1" height="41"/><rect x="762" y="426" width="5" height="3"/><rect x="764" y="429" width="1" height="10"/><rect x="771" y="413" width="1" height="15"/><rect x="769" y="428" width="5" height="75"/><rect x="771" y="503" width="1" height="5"/><rect x="779" y="499" width="1" height="3"/><rect x="777" y="502" width="5" height="57"/><rect x="779" y="559" width="1" height="18"/><rect x="786" y="537" width="1" height="21"/><rect x="784" y="558" width="5" height="7"/><rect x="786" y="565" width="1" height="35"/><rect x="794" y="549" width="1" height="15"/><rect x="792" y="564" width="5" height="62"/><rect x="794" y="626" width="1" height="12"/><rect x="816" y="527" width="1" height="13"/><rect x="814" y="540" width="5" height="4"/><rect x="816" y="544" width="1" height="8"/><rect x="829" y="540" width="5" height="18"/><rect x="831" y="558" width="1" height="2"/><rect x="839" y="552" width="1" height="5"/><rect x="837" y="557" width="5" height="15"/><rect x="869" y="553" width="1" height="1"/><rect x="867" y="554" width="5" height="20"/><rect x="869" y="574" width="1" height="20"/><rect x="884" y="564" width="1" height="1"/><rect x="882" y="565" width="5" height="26"/><rect x="884" y="591" width="1" height="1"/><rect x="891" y="585" width="1" height="5"/><rect x="889" y="590" width="5" height="5"/><rect x="891" y="595" width="1" height="10"/><rect x="899" y="591" width="1" height="3"/><rect x="897" y="594" width="5" height="13"/><rect x="899" y="607" width="1" height="6"/><rect x="959" y="495" width="1" height="27"/><rect x="957" y="522" width="5" height="117"/><rect x="959" y="639" width="1" height="14"/><rect x="966" y="613" width="1" height="25"/><rect x="964" y="638" width="5" height="21"/><rect x="966" y="659" width="1" height="16"/><rect x="981" y="597" width="1" height="15"/><rect x="979" y="612" width="5" height="7"/><rect x="981" y="619" width="1" height="24"/><rect x="996" y="595" width="1" height="3"/><rect x="994" y="598" width="5" height="21"/><rect x="996" y="619" width="1" height="4"/><rect x="1004" y="604" width="1" height="14"/><rect x="1002" y="618" width="5" height="4"/><rect x="1004" y="622" width="1" height="10"/><rect x="1019" y="618" width="1" height="3"/><rect x="1017" y="621" width="5" height="5"/><rect x="1019" y="626" width="1" height="7"/><rect x="1026" y="621" width="1" height="4"/><rect x="1024" y="625" width="5" height="7"/><rect x="1026" y="632" width="1" height="3"/><rect x="1056" y="603" width="1" height="9"/><rect x="1054" y="612" width="5" height="7"/><rect x="1056" y="619" width="1" height="9"/><rect x="1092" y="584" width="5" height="28"/><rect x="1094" y="612" width="1" height="44"/><rect x="1109" y="554" width="1" height="5"/><rect x="1107" y="559" width="5" height="61"/><rect x="1109" y="620" width="1" height="2"/><rect x="1161" y="368" width="1" height="18"/><rect x="1159" y="386" width="5" height="11"/><rect x="1161" y="397" width="1" height="15"/><rect x="1176" y="364" width="1" height="15"/><rect x="1174" y="379" width="5" height="27"/><rect x="1176" y="406" width="1" height="2"/><rect x="1184" y="397" width="1" height="8"/><rect x="1182" y="405" width="5" height="24"/><rect x="1184" y="429" width="1" height="1"/><rect x="1199" y="415" width="1" height="4"/><rect x="1197" y="419" width="5" height="15"/><rect x="1199" y="434" width="1" height="6"/><rect x="1221" y="414" width="1" height="10"/><rect x="1219" y="424" width="5" height="9"/><rect x="1221" y="433" width="1" height="2"/><rect x="1229" y="420" width="1" height="12"/><rect x="1227" y="432" width="5" height="9"/><rect x="1229" y="441" width="1" height="5"/><rect x="1244" y="415" width="1" height="7"/><rect x="1242" y="422" width="5" height="7"/><rect x="1244" y="429" width="1" height="5"/><rect x="1264" y="404" width="5" height="13"/></g></g>
 <g clip-path="url(#pane)" fill="none" stroke="#BA4FD2" stroke-width="1.5">
  <circle cx="1266.4" cy="734.3" r="12.2"/>
  <path d="M1271.2 727.6 L1260.1 735.7 L1266.2 735.1 L1262.6 741.6 L1273.2 733.3 L1267.3 733.9 Z" fill="#BA4FD2" stroke="none"/>
 </g>
 <g fill="none" stroke="#d1d4dc" stroke-width="1.3">
  <path d="M1309.3 761.5 L1318.7 761.5 L1322.9 769 L1318.7 776.5 L1309.3 776.5 L1305.1 769 Z" stroke-linejoin="round"/>
  <circle cx="1314" cy="769" r="2.9"/>
 </g>
</svg>
<div class="abs" style="left:0;top:0;width:1357px;height:796px;clip-path:inset(8px 6px 45px 1277px)"><div class="pl" style="top:29.4px">1.28600</div><div class="pl" style="top:76.4px">1.28400</div><div class="pl" style="top:123.4px">1.28200</div><div class="pl" style="top:171.4px">1.28000</div><div class="pl" style="top:218.4px">1.27800</div><div class="pl" style="top:266.4px">1.27600</div><div class="pl" style="top:313.4px">1.27400</div><div class="pl" style="top:360.4px">1.27200</div><div class="pl" style="top:455.4px">1.26800</div><div class="pl" style="top:502.4px">1.26600</div><div class="pl" style="top:550.4px">1.26400</div><div class="pl" style="top:597.4px">1.26200</div><div class="pl" style="top:644.4px">1.26000</div><div class="pl" style="top:692.4px">1.25800</div><div class="pl" style="top:739.4px">1.25600</div></div>
<div class="abs" style="left:1276px;top:406px;width:70px;height:39px;background:#F23645;border-radius:0 3px 3px 0"></div>
<div class="abs" style="left:1286.3px;top:407.9px;font-size:14.9px;line-height:18px;color:#fff;-webkit-text-stroke:0.45px #fff;transform-origin:0 50%;transform:scaleX(0.955)">1.27001</div>
<div class="abs" style="left:1286.3px;top:426.2px;font-size:15.6px;line-height:18px;color:#fbd5d9;-webkit-text-stroke:0.3px #fbd5d9;transform-origin:0 50%;transform:scaleX(0.945)">47:02</div>
<div class="tl" style="left:65.7px">23</div><div class="tl" style="left:170.7px">14:00</div><div class="tl" style="left:275.7px">26</div><div class="tl" style="left:425.7px">27</div><div class="tl" style="left:605.7px">28</div><div class="tl" style="left:785.7px">29</div><div class="tl" style="left:965.7px">30</div><div class="tl" style="left:1144.5px;font-weight:bold">Jul</div>

<svg width="60" height="50" style="left:0;top:0" viewBox="0 0 60 50">
 <defs>
  <clipPath id="us"><circle cx="31.7" cy="24.3" r="7.3"/></clipPath>
  <clipPath id="uk"><circle cx="24.1" cy="32" r="7.4"/></clipPath>
 </defs>
 <g clip-path="url(#us)">
  <rect x="24" y="16" width="16" height="17" fill="#f7f7f7"/>
  <rect x="24" y="16.8" width="16" height="2.2" fill="#f0454f"/>
  <rect x="24" y="21.2" width="16" height="2.2" fill="#f0454f"/>
  <rect x="24" y="25.5" width="16" height="2.2" fill="#f0454f"/>
  <rect x="24" y="29.8" width="16" height="2.4" fill="#f0454f"/>
  <rect x="24" y="16" width="9.2" height="10" fill="#2f87ee"/>
  <g fill="#cfe3fb"><rect x="27" y="18" width="1" height="1"/><rect x="30" y="18" width="1" height="1"/><rect x="28.5" y="20.5" width="1" height="1"/><rect x="31" y="21" width="1" height="1"/><rect x="27" y="23" width="1" height="1"/><rect x="30" y="23.5" width="1" height="1"/></g>
 </g>
 <circle cx="24.1" cy="32" r="9" fill="#181b26"/>
 <g clip-path="url(#uk)">
  <rect x="16" y="24" width="17" height="17" fill="#1a47b8"/>
  <path d="M16 24 L33 41 M33 24 L16 41" stroke="#f2f2f2" stroke-width="2.8"/>
  <path d="M16 24 L33 41 M33 24 L16 41" stroke="#e8474f" stroke-width="1.1"/>
  <path d="M24.1 24 V41 M16 32 H33" stroke="#f2f2f2" stroke-width="4.4"/>
  <path d="M24.1 24 V41 M16 32 H33" stroke="#f26d74" stroke-width="2.4"/>
 </g>
</svg>
<div class="abs" style="left:0;top:18.1px;font-size:19.3px;line-height:24px;color:#d1d4dc;-webkit-text-stroke:0.35px #d1d4dc"><span class="tw" id="tw0" style="left:43.1px;transform:scaleX(1.07)">British</span><span class="tw" id="tw1" style="left:106.0px;transform:scaleX(0.985)">Pound</span><span class="tw" id="tw2" style="left:168.2px">/</span><span class="tw" id="tw3" style="left:182.7px">U.S.</span><span class="tw" id="tw4" style="left:226.2px;transform:scaleX(1.035)">Dollar</span><span class="tw" id="tw5" style="left:284.3px">·</span><span class="tw" id="tw6" style="left:295.0px">1h</span><span class="tw" id="tw7" style="left:321.2px">·</span><span class="tw" id="tw8" style="left:330.4px;transform:scaleX(0.905)">FXCM</span></div>
<div class="abs" style="left:398px;top:17px;width:50px;height:22px;border-radius:11px;overflow:hidden">
 <div class="abs" style="left:0;top:0;width:25px;height:22px;background:#1b3436"></div>
 <div class="abs" style="left:25px;top:0;width:25px;height:22px;background:#431d37"></div>
 <div class="abs" style="left:8.7px;top:23.2px"></div>
</div>
<div class="abs" style="left:406.7px;top:23.2px;width:10px;height:10px;border-radius:50%;background:#0a9b82"></div>
<div class="abs" style="left:425px;top:15px;width:20px;text-align:center;font-size:20px;line-height:26px;color:#e91e63;font-family:'DejaVu Sans',sans-serif">&#8776;</div>
<div class="abs" style="left:467px;top:21.2px;font-size:15.3px;line-height:18px;color:#d1d4dc">
<span class="abs" id="o1" style="-webkit-text-stroke:0.35px #d1d4dc;left:0">O</span><span class="abs" id="o2" style="left:13px;color:#f23645;font-size:15.6px;top:-0.3px">1.27054</span>
<span class="abs" id="h1" style="-webkit-text-stroke:0.35px #d1d4dc;left:77px">H</span><span class="abs" id="h2" style="left:89.6px;color:#f23645;font-size:15.6px;top:-0.3px">1.27055</span>
<span class="abs" id="l1" style="-webkit-text-stroke:0.35px #d1d4dc;left:154px">L</span><span class="abs" id="l2" style="left:164px;color:#f23645;font-size:15.6px;top:-0.3px">1.26998</span>
<span class="abs" id="c1" style="-webkit-text-stroke:0.35px #d1d4dc;left:228px">C</span><span class="abs" id="c2" style="left:239.6px;color:#f23645;font-size:15.6px;top:-0.3px">1.27001</span>
<span class="abs" id="ch" style="left:304px;color:#f23645;font-size:15.6px;top:-0.3px">−0.00053</span>
<span class="abs" id="pc" style="left:374.4px;color:#f23645;font-size:15.6px;top:-0.3px;transform-origin:0 50%;transform:scaleX(0.975)">(−0.04%)</span>
</div>
<div class="abs" style="left:15px;top:48px;width:73px;height:27.6px;border:1.1px solid #f23645;border-radius:4px"></div>
<div class="abs" id="bid" style="left:25px;top:54.5px;font-size:16.1px;line-height:18px;color:#f23645;-webkit-text-stroke:0.3px #f23645;transform-origin:0 50%;transform:scaleX(0.98)">1.2700</div>
<div class="abs" id="bid2" style="left:73.2px;top:53.1px;font-size:14.6px;line-height:18px;color:#f23645;-webkit-text-stroke:0.3px #f23645">0</div>
<div class="abs" id="sp" style="left:99.7px;top:54.1px;font-size:14.3px;line-height:18px;color:#d1d4dc;-webkit-text-stroke:0.3px #d1d4dc">0.5</div>
<div class="abs" style="left:130px;top:48px;width:73px;height:27.6px;border:1.1px solid #2962ff;border-radius:4px"></div>
<div class="abs" id="ask" style="left:139px;top:54.5px;font-size:16.1px;line-height:18px;color:#2962ff;-webkit-text-stroke:0.3px #2962ff;transform-origin:0 50%;transform:scaleX(0.98)">1.2700</div>
<div class="abs" id="ask2" style="left:187.6px;top:53.1px;font-size:14.6px;line-height:18px;color:#2962ff;-webkit-text-stroke:0.3px #2962ff">5</div>
<svg width="60" height="40" style="left:15px;top:705px" viewBox="15 705 60 40" fill="#d1d4dc">
 <path d="M19.9 714.9 H35 V733.2 H27.6 V722 H19.9 Z"/>
 <circle cx="41.3" cy="718.5" r="3.65"/>
 <path d="M48.9 715 H57.2 L49.8 733.2 H41.7 Z"/>
</svg>
<div class="abs" id="tv" style="left:65.6px;top:709.6px;font-size:25.5px;line-height:30px;color:#d1d4dc;-webkit-text-stroke:0.9px #d1d4dc;transform-origin:0 50%;transform:scaleX(1.075)">TradingView</div>
</body></html>
